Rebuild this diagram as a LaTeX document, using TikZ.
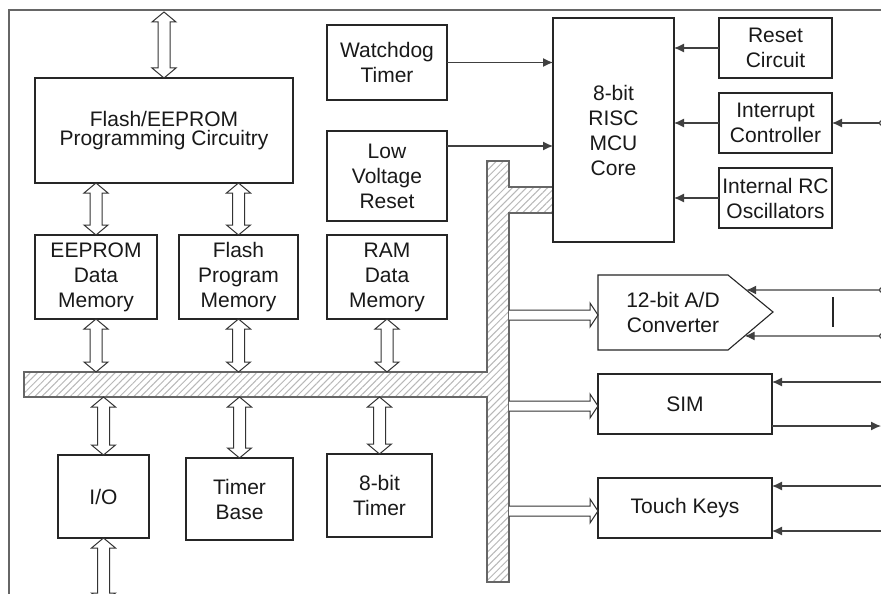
\documentclass[tikz,border=0pt]{standalone}
\usepackage{fontspec}
\setmainfont{Liberation Sans}
\usetikzlibrary{arrows.meta,calc,patterns.meta}
\newcommand\vdarrow[2]{\draw[hol] let \p1=(#1),\p2=(#2) in (\x1,\y1) -- (\x1+12pt,\y1-10pt) -- (\x1+6pt,\y1-10pt) -- (\x1+6pt,\y2+10pt) -- (\x1+12pt,\y2+10pt) -- (\x1,\y2) -- (\x1-12pt,\y2+10pt) -- (\x1-6pt,\y2+10pt) -- (\x1-6pt,\y1-10pt) -- (\x1-12pt,\y1-10pt) -- cycle;}
\newcommand\hbarrow[2]{\draw[hol] let \p1=(#1),\p2=(#2) in (\x1,\y2+5pt) -- (\x2-8pt,\y2+5pt) -- (\x2-8pt,\y2+12pt) -- (\x2,\y2) -- (\x2-8pt,\y2-12pt) -- (\x2-8pt,\y2-5pt) -- (\x1,\y2-5pt);}
\begin{document}
\begin{tikzpicture}[x=1pt,y=-1pt,
  box/.style={draw=black!85,line width=1.1pt,inner sep=0pt,outer sep=0pt,align=center,font=\fontsize{21}{25}\selectfont,text=black!90},
  outl/.style={draw=black!85,line width=1.1pt,line join=miter},
  hol/.style={draw=black!80,line width=1pt,fill=white,line join=miter},
  sig/.style={draw=black!75,line width=1.2pt},
  tip/.style={-{Latex[length=10pt,width=9pt]}},
  circtip/.style={{Circle[open,length=6pt,width=6pt]}-{Latex[length=10pt,width=9pt]}},
  busst/.style={draw=black!60,line width=1.1pt,pattern={Lines[angle=45,distance=5pt,line width=1pt]},pattern color=black!28},
  frame/.style={draw=black!60,line width=1.2pt}]
\useasboundingbox (0,0) rectangle (881,594);
\fill[white] (0,0) rectangle (881,594);
\clip (0,0) rectangle (881,594);
\draw[frame] (9,600) -- (9,10) -- (885,10);
% reference coordinates
\coordinate (ftop) at (0,12);
\coordinate (fbot) at (0,603);
\coordinate (hbt) at (0,372);
\coordinate (hbb) at (0,397);
\coordinate (vbr) at (509,0);
\coordinate (redge) at (885,0);
\coordinate (rtip) at (881,0);
% bus
\draw[busst] (24,372) -- (487,372) -- (487,161) -- (509,161) -- (509,187) -- (553,187) -- (553,213) -- (509,213) -- (509,582) -- (487,582) -- (487,397) -- (24,397) -- cycle;
% boxes
\node[box,minimum width=258,minimum height=105,font=\fontsize{21}{19.5}\selectfont] (fpc) at (164,130.5) {Flash/EEPROM\\Programming Circuitry};
\node[box,minimum width=122,minimum height=84] (eeprom) at (96,277) {EEPROM\\Data\\Memory};
\node[box,minimum width=119,minimum height=84] (flashmem) at (238.5,277) {Flash\\Program\\Memory};
\node[box,minimum width=120,minimum height=84] (ram) at (387,277) {RAM\\Data\\Memory};
\node[box,minimum width=91,minimum height=83] (io) at (103.5,496.5) {I/O};
\node[box,minimum width=107,minimum height=82] (tbase) at (239.5,499) {Timer\\Base};
\node[box,minimum width=105,minimum height=83] (t8) at (379.5,495.5) {8-bit\\Timer};
\node[box,minimum width=120,minimum height=75] (wdt) at (387,62.5) {Watchdog\\Timer};
\node[box,minimum width=120,minimum height=90] (lvr) at (387,176) {Low\\Voltage\\Reset};
\node[box,minimum width=121,minimum height=224] (core) at (613.5,130) {8-bit\\RISC\\MCU\\Core};
\node[box,minimum width=113,minimum height=60] (rst) at (775.5,48) {Reset\\Circuit};
\node[box,minimum width=113,minimum height=60] (intc) at (775.5,123) {Interrupt\\Controller};
\node[box,minimum width=113,minimum height=60] (rc) at (775.5,198) {Internal RC\\Oscillators};
\node[box,minimum width=174,minimum height=60] (sim) at (685,404) {SIM};
\node[box,minimum width=174,minimum height=60] (touch) at (685,508) {Touch Keys};
% A/D converter
\coordinate (ad1) at (598,275);
\coordinate (ad2) at (728,275);
\coordinate (adp) at (773,312);
\coordinate (ad3) at (728,350);
\coordinate (ad4) at (598,350);
\draw[outl] (ad1) -- (ad2) -- (adp) -- (ad3) -- (ad4) -- cycle;
\node[box,draw=none] (adc) at (673,312) {12-bit A/D\\Converter};
\coordinate (adw) at (598,315);
% hollow bus arrows
\vdarrow{fpc.north |- ftop}{fpc.north}
\vdarrow{fpc.south -| eeprom.north}{eeprom.north}
\vdarrow{fpc.south -| flashmem.north}{flashmem.north}
\vdarrow{eeprom.south}{eeprom.south |- hbt}
\vdarrow{flashmem.south}{flashmem.south |- hbt}
\vdarrow{ram.south}{ram.south |- hbt}
\vdarrow{io.north |- hbb}{io.north}
\vdarrow{tbase.north |- hbb}{tbase.north}
\vdarrow{t8.north |- hbb}{t8.north}
\vdarrow{io.south}{io.south |- fbot}
\hbarrow{vbr}{adw}
\hbarrow{vbr}{$(sim.west)+(0,2)$}
\hbarrow{vbr}{$(touch.west)+(0,3)$}
% signals to core
\draw[sig,tip] (wdt.east) -- (wdt.east -| core.west);
\coordinate (lvro) at ($(lvr.north east)+(0,15)$);
\draw[sig,tip] (lvro) -- (lvro -| core.west);
\draw[sig,tip] (rst.west) -- (rst.west -| core.east);
\draw[sig,tip] (intc.west) -- (intc.west -| core.east);
\draw[sig,tip] (rc.west) -- (rc.west -| core.east);
\draw[sig,circtip] (intc.east -| redge) -- (intc.east);
% A/D inputs
\coordinate (adr1) at (885,290);
\coordinate (adr2) at (885,336);
\coordinate (adt1) at ($(ad2)!0.405!(adp)$);
\coordinate (adt2) at ($(adp)!0.63!(ad3)$);
\draw[sig,circtip] (adr1) -- (adt1);
\draw[sig,circtip] (adr2) -- (adt2);
\coordinate (bar1) at (833,297);
\coordinate (bar2) at (833,327);
\draw[black!85,line width=1.8pt] (bar1) -- (bar2);
% SIM
\coordinate (simi) at ($(sim.north east)+(0,8)$);
\coordinate (simo) at ($(sim.south east)+(0,-8)$);
\draw[sig,tip] (simi -| redge) -- (simi);
\draw[sig,tip] (simo) -- (simo -| rtip);
% Touch keys
\coordinate (tk1) at ($(touch.north east)+(0,8)$);
\coordinate (tk2) at ($(touch.south east)+(0,-7)$);
\draw[sig,tip] (tk1 -| redge) -- (tk1);
\draw[sig,tip] (tk2 -| redge) -- (tk2);
\end{tikzpicture}
\end{document}
